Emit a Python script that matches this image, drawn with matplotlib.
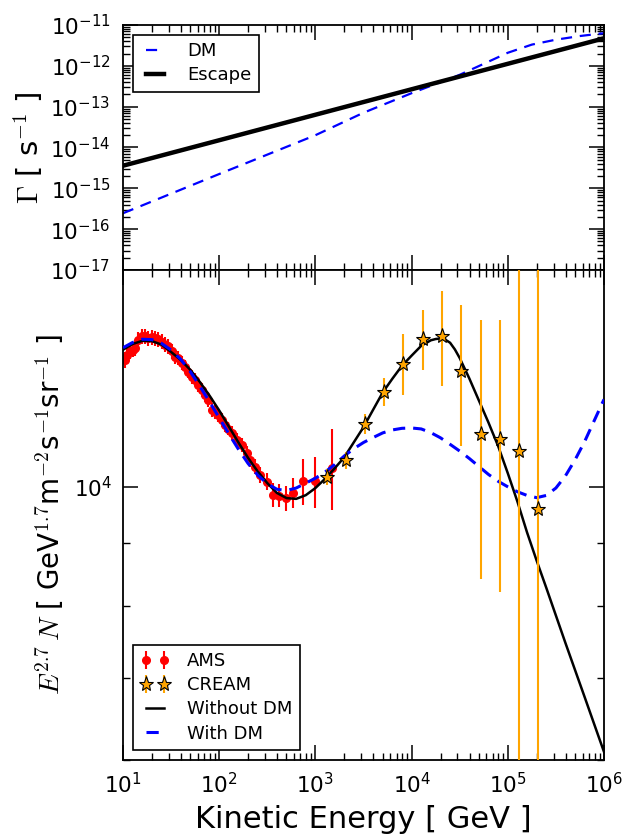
import matplotlib
matplotlib.use('Agg')
import matplotlib.pyplot as plt
from matplotlib.ticker import LogLocator, NullFormatter
import numpy as np

# ---- top panel: rates [1/s]
rate_e = [1e1, 1e2, 1e3, 10**3.5, 1e4, 10**4.5, 10**4.75, 1e5, 10**5.25, 10**5.5, 10**5.75, 1e6]
rate_dm = [2.45e-16, 2.24e-15, 2.0e-14, 7.1e-14, 2.14e-13, 6.03e-13, 1.12e-12, 2.09e-12,
           3.31e-12, 4.37e-12, 5.37e-12, 6.31e-12]
esc_e = [1e1, 1e6]
rate_esc = [3.58e-15, 4.72e-12]

# ---- bottom panel: models
nodm_e = [10, 12.59, 15.85, 19.95, 25.12, 31.62, 39.81, 50.12, 63.10, 79.43, 100, 125.9,
          158.5, 199.5, 251.2, 316.2, 398.1, 501.2, 631.0, 794.3, 1000, 1259, 1585, 1995,
          2512, 3162, 3981, 5012, 6310, 7943, 10000, 12589, 15849, 17783, 19953, 22387,
          25119, 28184, 31623, 39811, 50119, 63096, 79433, 1e5, 125893, 158489, 199526,
          251189, 398107, 630957, 1e6]
nodm_val = [12922, 13062, 13138, 13132, 13047, 12868, 12677, 12445, 12162, 11858, 11535,
            11194, 10864, 10556, 10292, 10069, 9886, 9791, 9777, 9845, 9977, 10151, 10351,
            10568, 10870, 11180, 11550, 11930, 12240, 12540, 12780, 13017, 13152, 13183,
            13198, 13168, 13092, 12929, 12723, 12246, 11749, 11272, 10789, 10257, 9727,
            9183, 8710, 8279, 7464, 6745, 6091]

dm_e = [10, 12.59, 15.85, 19.95, 25.12, 31.62, 39.81, 50.12, 63.10, 79.43, 100, 125.9,
        158.5, 199.5, 251.2, 316.2, 398.1, 501.2, 631.0, 794.3, 1000, 1259, 1585, 1995,
        2512, 3162, 3981, 5012, 6310, 7943, 10000, 12589, 15849, 19953, 25119, 31623,
        39811, 50119, 63096, 79433, 1e5, 125893, 158489, 199526, 251189, 316228, 398107,
        501187, 630957, 794328, 1e6]
dm_val = [12970, 13099, 13178, 13169, 13078, 12914, 12692, 12402, 12064, 11722, 11376,
          11041, 10728, 10447, 10221, 10058, 9954, 9931, 9977, 10069, 10162, 10280, 10423,
          10593, 10740, 10864, 10965, 11061, 11122, 11156, 11163, 11143, 11066, 10960,
          10827, 10691, 10544, 10387, 10233, 10104, 10000, 9908, 9840, 9799, 9840, 9977,
          10209, 10520, 10889, 11324, 11776]

# ---- AMS data
ams_e = [10.5, 10.9, 11.8, 12.6, 13.3, 14.4, 15.6, 16.9, 18.3, 19.9, 21.5, 23.3, 25.3,
         27.3, 29.6, 32.1, 34.7, 37.6, 40.8, 44.1, 47.7, 51.8, 56.0, 60.6, 65.8, 71.2,
         77.0, 83.6, 90.4, 97.9, 106, 115, 122, 135, 152, 171, 193, 209, 236, 266, 312,
         360, 422, 495, 589, 748, 991, 1475]
ams_val = [12683, 12800, 12880, 12922, 12963, 13164, 13246, 13246, 13206, 13231, 13206,
           13183, 13122, 13043, 13002, 12880, 12759, 12720, 12603, 12522, 12406, 12290,
           12214, 12101, 11988, 11876, 11766, 11548, 11511, 11440, 11332, 11226, 11150,
           11055, 10918, 10816, 10651, 10517, 10387, 10226, 10099, 9851, 9835, 9790,
           9890, 10100, 10100, 10356]
ams_err = [185, 185, 185, 185, 185, 185, 185, 185, 185, 185, 185, 185, 185, 185, 185,
           170, 170, 170, 170, 160, 160, 160, 150, 150, 150, 150, 150, 150, 150, 150,
           140, 140, 140, 140, 140, 140, 140, 140, 140, 150, 160, 220, 210, 230, 280,
           430, 480, 780]

# ---- CREAM data
cream_e = [1310, 2056, 3280, 5200, 8200, 13030, 20700, 32650, 52300, 83000, 130600, 206000]
cream_val = [10190, 10505, 11250, 11950, 12590, 13180, 13250, 12420, 11040, 10940, 10700, 9597]
cream_err = [150, 175, 210, 315, 720, 745, 1165, 1620, 2630, 2730, 8000, 8500]

plt.rcParams.update({
    'font.family': 'DejaVu Sans',
    'font.size': 15.5,
    'axes.linewidth': 1.3,
    'axes.unicode_minus': False,
    'xtick.direction': 'in', 'ytick.direction': 'in',
    'xtick.top': True, 'ytick.right': True,
    'xtick.major.size': 11, 'ytick.major.size': 11,
    'xtick.minor.size': 5, 'ytick.minor.size': 5,
    'xtick.major.width': 1.1, 'ytick.major.width': 1.1,
    'xtick.minor.width': 1.0, 'ytick.minor.width': 1.0,
    'legend.numpoints': 2,
    'legend.fancybox': False,
    'legend.edgecolor': 'black',
    'legend.framealpha': 1.0,
})

fig = plt.figure(figsize=(6.25, 8.39), dpi=100)
ax1 = fig.add_axes([0.1968, 0.6782, 0.7696, 0.2920])
ax2 = fig.add_axes([0.1968, 0.0942, 0.7696, 0.5840], sharex=ax1)

# top panel
ax1.plot(rate_e, rate_dm, color='blue', lw=1.6, dashes=(5, 3.5), label='DM')
ax1.plot(esc_e, rate_esc, color='black', lw=3.2, label='Escape')
ax1.set_xscale('log')
ax1.set_yscale('log')
ax1.set_xlim(1e1, 1e6)
ax1.set_ylim(1e-17, 1e-11)
ax1.yaxis.set_major_locator(LogLocator(base=10, numticks=20))
ax1.yaxis.set_minor_locator(LogLocator(base=10, subs=np.arange(2, 10), numticks=50))
ax1.yaxis.set_minor_formatter(NullFormatter())
ax1.tick_params(axis='x', which='both', labelbottom=False)
ax1.tick_params(axis='y', which='major', pad=9)
ax1.set_ylabel(r'$\Gamma$ [ s$^{-1}$ ]', fontsize=21, math_fontfamily='cm')
ax1.yaxis.set_label_coords(-0.163, 0.5)
leg1 = ax1.legend(loc='upper left', fontsize=13, handlelength=1.6, handletextpad=1.0,
                  labelspacing=0.35, borderaxespad=0.55)
leg1.get_frame().set_linewidth(1.2)

# bottom panel
ams = ax2.errorbar(ams_e, ams_val, yerr=ams_err, fmt='o', color='red', ms=5.5,
                   elinewidth=1.5, capsize=0, zorder=2)
l_nodm, = ax2.plot(nodm_e, nodm_val, color='black', lw=1.8, zorder=3)
l_dm, = ax2.plot(dm_e, dm_val, color='blue', lw=2.2, dashes=(4, 2.6), zorder=3)
cream = ax2.errorbar(cream_e, cream_val, yerr=cream_err, fmt='*', color='orange',
                     mfc='orange', mec='black', mew=0.8, ms=11, ecolor='orange',
                     elinewidth=1.5, capsize=0, zorder=4)
ax2.set_xscale('log')
ax2.set_yscale('log')
ax2.set_xlim(1e1, 1e6)
ax2.set_ylim(6000, 15000)
ax2.xaxis.set_major_locator(LogLocator(base=10, numticks=20))
ax2.xaxis.set_minor_locator(LogLocator(base=10, subs=np.arange(2, 10), numticks=50))
ax2.xaxis.set_minor_formatter(NullFormatter())
ax2.yaxis.set_major_locator(LogLocator(base=10, numticks=20))
ax2.yaxis.set_minor_locator(LogLocator(base=10, subs=np.arange(2, 10), numticks=50))
ax2.yaxis.set_minor_formatter(NullFormatter())
ax2.tick_params(axis='x', which='major', pad=9)
ax2.tick_params(axis='y', which='major', pad=8)
ax2.set_xlabel('Kinetic Energy [ GeV ]', fontsize=22, labelpad=5)
ax2.set_ylabel(r'$E^{2.7}\,N$ [ GeV$^{1.7}$m$^{-2}$s$^{-1}$sr$^{-1}$ ]', fontsize=20,
               math_fontfamily='cm')
ax2.yaxis.set_label_coords(-0.118, 0.5)
leg2 = ax2.legend([ams, cream, l_nodm, l_dm], ['AMS', 'CREAM', 'Without DM', 'With DM'],
                  loc='lower left', fontsize=13, handlelength=1.6, handletextpad=1.0,
                  labelspacing=0.35, borderaxespad=0.55)
leg2.get_frame().set_linewidth(1.2)

fig.savefig('out.png', dpi=100)
